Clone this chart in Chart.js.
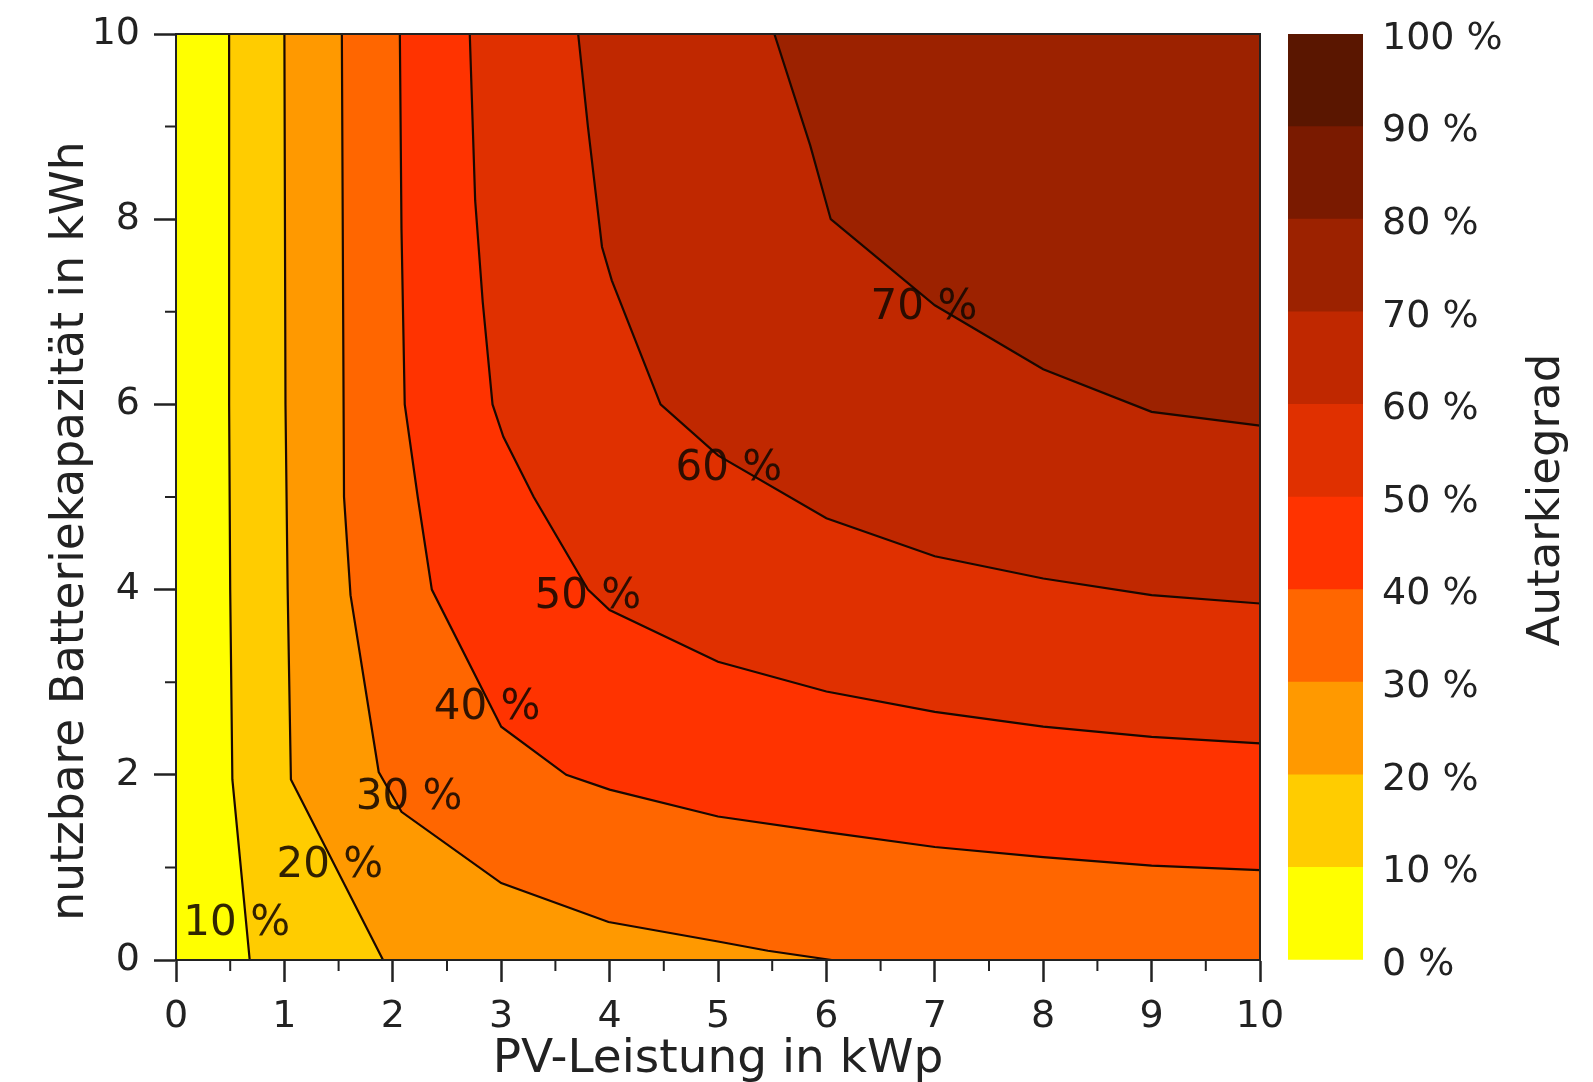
<!DOCTYPE html>
<html>
<head>
<meta charset="utf-8">
<script src="https://cdn.jsdelivr.net/npm/chart.js@4.4.1/dist/chart.umd.min.js"></script>
<style>
  html, body { margin: 0; padding: 0; background: #fff; }
  #wrap { position: relative; width: 1593px; height: 1082px; }
  .box { position: absolute; left: 0; top: 0; width: 1593px; height: 1082px; }
</style>
</head>
<body>
<div id="wrap">
  <div class="box"><canvas id="konturen"></canvas></div>
  <div class="box"><canvas id="farbskala"></canvas></div>
</div>
<script>
// Konturlinien (PV-Leistung kWp, Batteriekapazität kWh)
const kontur10 = [[0.49, 10], [0.49, 6], [0.5, 4], [0.52, 1.95], [0.68, 0]];
const kontur20 = [[1.0, 10], [1.01, 6], [1.03, 4], [1.06, 1.95], [1.91, 0]];
const kontur30 = [[1.53, 10], [1.55, 5], [1.61, 3.94], [1.87, 2.03], [2.08, 1.6], [3.0, 0.83], [3.99, 0.41], [5.0, 0.2], [5.46, 0.1], [6.05, 0]];
const kontur40 = [[2.065, 10], [2.08, 7.9], [2.11, 6.0], [2.23, 5.0], [2.36, 4.0], [3.0, 2.52], [3.6, 2.0], [4.0, 1.84], [5.0, 1.55], [6.0, 1.38], [7.0, 1.22], [8.0, 1.11], [9.0, 1.02], [10, 0.97]];
const kontur50 = [[2.71, 10], [2.76, 8.2], [2.83, 7.1], [2.92, 6.0], [3.02, 5.65], [3.3, 5.0], [3.8, 4.0], [4.0, 3.78], [5.0, 3.22], [6.0, 2.9], [7.0, 2.68], [8.0, 2.52], [9.0, 2.41], [10, 2.34]];
const kontur60 = [[3.71, 10], [3.8, 9.0], [3.93, 7.7], [4.02, 7.34], [4.47, 6.0], [5.0, 5.45], [6.0, 4.77], [7.0, 4.36], [8.0, 4.12], [9.0, 3.94], [10, 3.85]];
const kontur70 = [[5.52, 10], [5.85, 8.8], [6.04, 8.0], [7.0, 7.07], [8.0, 6.38], [9.0, 5.92], [10, 5.77]];
const konturen = [kontur10, kontur20, kontur30, kontur40, kontur50, kontur60, kontur70];

// Beschriftung der Linien
const stufenText = ["10 %", "20 %", "30 %", "40 %", "50 %", "60 %", "70 %"];
const textPos = [[0.56, 0.39], [1.42, 1.01], [2.15, 1.75], [2.87, 2.72], [3.80, 3.92], [5.10, 5.30], [6.90, 7.04]];

// Farbskala Autarkiegrad
const skalaWerte = [0, 10, 20, 30, 40, 50, 60, 70, 80, 90, 100];
const farben = ["#ffff00", "#ffcc00", "#ff9900", "#ff6600", "#ff3300", "#e03000", "#c02800", "#9c2200", "#7a1a00", "#5a1600"];

// Achsen
const pvTicks = [0, 1, 2, 3, 4, 5, 6, 7, 8, 9, 10];
const pvMinor = [0.5, 1.5, 2.5, 3.5, 4.5, 5.5, 6.5, 7.5, 8.5, 9.5];
const batTicks = [0, 2, 4, 6, 8, 10];
const batMinor = [1, 3, 5, 7, 9];
const xMin = 0, xMax = 10, yMin = 0, yMax = 10;

const schrift = "'DejaVu Sans', Verdana, sans-serif";
const textFarbe = "#222";

function toPts(arr) {
  return arr.map(p => ({ x: p[0], y: p[1] }));
}

// Fläche oberhalb einer Konturlinie, geschlossen über die obere rechte Ecke
function flaeche(arr) {
  const pts = toPts(arr);
  const last = arr[arr.length - 1];
  if (last[1] === yMin) pts.push({ x: xMax, y: yMin });
  pts.push({ x: xMax, y: yMax });
  return pts;
}

const datasets = [];
// Hintergrund 0-10 %
datasets.push({
  data: [{ x: xMin, y: yMax }, { x: xMin, y: yMin }, { x: xMax, y: yMin }, { x: xMax, y: yMax }],
  backgroundColor: farben[0],
  fill: "shape",
  borderWidth: 0,
  pointRadius: 0,
  order: 100,
});
konturen.forEach((k, i) => {
  datasets.push({
    data: flaeche(k),
    backgroundColor: farben[i + 1],
    fill: "shape",
    borderWidth: 0,
    pointRadius: 0,
    order: 90 - i,
  });
});
konturen.forEach((k) => {
  datasets.push({
    data: toPts(k),
    borderColor: "#1a0800",
    borderWidth: 2.2,
    fill: false,
    pointRadius: 0,
    tension: 0,
    order: 0,
  });
});

const rahmen = {
  id: "rahmen",
  afterDatasetsDraw(chart) {
    const { ctx, scales: { x, y } } = chart;
    ctx.save();
    ctx.fillStyle = "rgba(20,8,0,0.88)";
    ctx.font = "42px " + schrift;
    ctx.textAlign = "center";
    ctx.textBaseline = "middle";
    textPos.forEach((p, i) => {
      ctx.fillText(stufenText[i], x.getPixelForValue(p[0]), y.getPixelForValue(p[1]));
    });
    ctx.restore();
  },
  afterDraw(chart) {
    const { ctx, chartArea: a, scales: { x, y } } = chart;
    ctx.save();
    ctx.strokeStyle = textFarbe;
    ctx.lineWidth = 2;
    ctx.beginPath();
    pvMinor.forEach(v => {
      const px = x.getPixelForValue(v);
      ctx.moveTo(px, a.bottom);
      ctx.lineTo(px, a.bottom + 11);
    });
    batMinor.forEach(v => {
      const py = y.getPixelForValue(v);
      ctx.moveTo(a.left, py);
      ctx.lineTo(a.left - 11, py);
    });
    ctx.stroke();
    ctx.strokeRect(a.left, a.top, a.right - a.left, a.bottom - a.top);

    // Titel der y-Achse, etwas unterhalb der Mitte wie im Original
    ctx.translate(71, (a.top + a.bottom) / 2 + 34);
    ctx.rotate(-Math.PI / 2);
    ctx.fillStyle = textFarbe;
    ctx.font = "45.5px " + schrift;
    ctx.textAlign = "center";
    ctx.textBaseline = "middle";
    ctx.fillText("nutzbare Batteriekapazität in kWh", 0, 0);
    ctx.restore();
  },
};

new Chart(document.getElementById("konturen"), {
  type: "line",
  data: { datasets },
  options: {
    responsive: true,
    maintainAspectRatio: false,
    animation: false,
    layout: { padding: { left: 0, right: 333, top: 34, bottom: 0 } },
    plugins: { legend: { display: false }, tooltip: { enabled: false } },
    scales: {
      x: {
        type: "linear",
        min: xMin,
        max: xMax,
        afterBuildTicks(s) { s.ticks = pvTicks.map(v => ({ value: v })); },
        afterFit(s) { s.height = 122; },
        grid: { drawOnChartArea: false, tickLength: 22, tickWidth: 2.5, tickColor: textFarbe },
        border: { color: textFarbe, width: 2 },
        ticks: { font: { family: schrift, size: 38, lineHeight: 1 }, color: textFarbe, padding: 16, maxRotation: 0 },
        title: {
          display: true,
          text: "PV-Leistung in kWp",
          font: { family: schrift, size: 47, lineHeight: 1 },
          color: textFarbe,
          padding: { top: 0, bottom: -1 },
        },
      },
      y: {
        type: "linear",
        min: yMin,
        max: yMax,
        afterBuildTicks(s) { s.ticks = batTicks.map(v => ({ value: v })); },
        afterFit(s) { s.width = 176; },
        grid: { drawOnChartArea: false, tickLength: 22, tickWidth: 2.5, tickColor: textFarbe },
        border: { color: textFarbe, width: 2 },
        ticks: { font: { family: schrift, size: 38, lineHeight: 1 }, color: textFarbe, padding: 14 },
      },
    },
  },
  plugins: [rahmen],
});

const skalaTitel = {
  id: "skalaTitel",
  afterDraw(chart) {
    const { ctx, chartArea: a } = chart;
    ctx.save();
    ctx.translate(a.right + 184, 500);
    ctx.rotate(-Math.PI / 2);
    ctx.fillStyle = textFarbe;
    ctx.font = "45px " + schrift;
    ctx.textAlign = "center";
    ctx.textBaseline = "middle";
    ctx.fillText("Autarkiegrad", 0, 0);
    ctx.restore();
  },
};

new Chart(document.getElementById("farbskala"), {
  type: "bar",
  data: {
    labels: [""],
    datasets: farben.map((f, i) => ({
      data: [skalaWerte[i + 1] - skalaWerte[i]],
      backgroundColor: f,
      borderWidth: 0,
      barPercentage: 1,
      categoryPercentage: 1,
    })),
  },
  options: {
    responsive: true,
    maintainAspectRatio: false,
    animation: false,
    layout: { padding: { left: 1288, right: 30, top: 34, bottom: 122 } },
    plugins: { legend: { display: false }, tooltip: { enabled: false } },
    scales: {
      x: { display: false, stacked: true },
      y: {
        stacked: true,
        position: "right",
        min: 0,
        max: 100,
        afterBuildTicks(s) { s.ticks = skalaWerte.map(v => ({ value: v })); },
        afterFit(s) { s.width = 200; },
        grid: { display: true, drawOnChartArea: false, drawTicks: true, tickLength: 19, tickColor: "rgba(0,0,0,0)" },
        border: { display: false },
        ticks: {
          font: { family: schrift, size: 38, lineHeight: 1 },
          color: textFarbe,
          padding: 0,
          labelOffset: 5,
          callback: v => v + " %",
        },
      },
    },
  },
  plugins: [skalaTitel],
});
</script>
</body>
</html>
